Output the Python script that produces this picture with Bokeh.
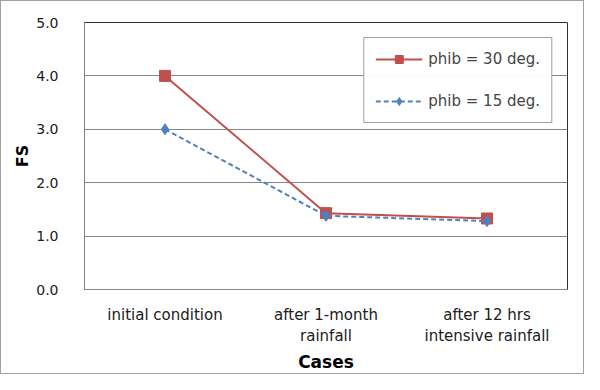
from bokeh.plotting import figure
from bokeh.embed import file_html
from bokeh.resources import INLINE
from bokeh.models import FactorRange, Range1d, Legend, LegendItem, FixedTicker, NumeralTickFormatter

cases = ["initial condition", "after 1-month\nrainfall", "after 12 hrs\nintensive rainfall"]
fs_30 = [4.0, 1.43, 1.33]
fs_15 = [3.0, 1.38, 1.28]
y_ticks = [0, 1, 2, 3, 4, 5]

FONT = "DejaVu Sans"
p = figure(width=584, height=374, output_backend="svg", toolbar_location=None,
           x_range=FactorRange(*cases, range_padding=0), y_range=Range1d(0, 5),
           min_border_left=83, min_border_right=18, min_border_top=21, min_border_bottom=82,
           styles={"border": "1px solid #a0a0a0", "box-sizing": "border-box"})

p.outline_line_color = "#303030"
p.outline_line_width = 1
p.xgrid.grid_line_color = None
p.ygrid.grid_line_color = "#868686"
p.ygrid.ticker = FixedTicker(ticks=y_ticks)
p.yaxis.ticker = FixedTicker(ticks=y_ticks)
p.yaxis.formatter = NumeralTickFormatter(format="0.0")
for ax in (p.xaxis, p.yaxis):
    ax.axis_line_color = "#868686"
    ax.major_tick_line_color = None
    ax.minor_tick_line_color = None
    ax.major_label_text_font = FONT
    ax.major_label_text_color = "#202020"
    ax.axis_label_text_font = FONT
    ax.axis_label_text_font_style = "bold"
    ax.axis_label_text_color = "#000000"
p.xaxis.major_label_text_font_size = "15px"
p.yaxis.major_label_text_font_size = "14px"
p.xaxis.axis_label_text_font_size = "17px"
p.yaxis.axis_label_text_font_size = "16px"
p.yaxis.major_label_standoff = 20
p.xaxis.major_label_standoff = 10
p.xaxis.axis_label_standoff = 4
p.yaxis.axis_label_standoff = 1
p.xaxis.axis_label = "Cases"
p.yaxis.axis_label = "FS"

red = "#C0504D"
blue = "#4F81BD"
l1 = p.line(cases, fs_30, line_color=red, line_width=2)
s1 = p.scatter(cases, fs_30, marker="square", size=11, fill_color=red, line_color=red)
l2 = p.line(cases, fs_15, line_color=blue, line_width=2, line_dash="5 3")
s2 = p.scatter(cases, fs_15, marker="diamond", size=11, fill_color=blue, line_color=blue)

legend = Legend(items=[LegendItem(label="phib = 30 deg.", renderers=[l1, s1]),
                       LegendItem(label="phib = 15 deg.", renderers=[l2, s2])],
                location="top_right", margin=15,
                border_line_color="#404040", border_line_width=1,
                label_text_font=FONT, label_text_font_size="15px",
                label_height=20, glyph_height=20,
                glyph_width=47, spacing=22, padding=11, label_standoff=6)
p.add_layout(legend)

open("out.html", "w").write(file_html(p, INLINE))
